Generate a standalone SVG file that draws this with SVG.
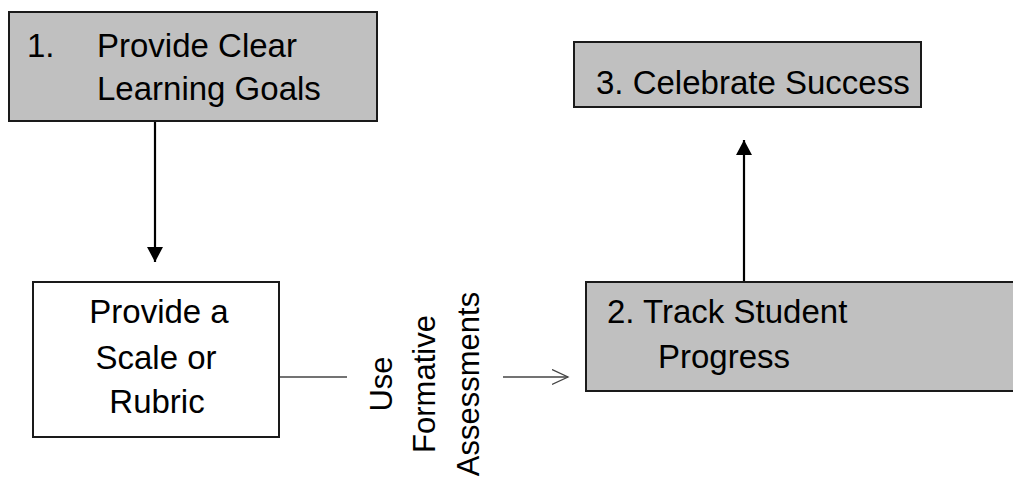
<svg xmlns="http://www.w3.org/2000/svg" width="1013" height="479" viewBox="0 0 1013 479">
<style>
.box{stroke:#1a1a1a;stroke-width:2}
.gray{fill:#c0c0c0}
.white{fill:#ffffff}
.t{font-family:"Liberation Sans","Noto Sans",sans-serif;font-size:33px;fill:#000}
.v{font-size:31px}
.c{text-anchor:middle}
.thin{stroke:#444;stroke-width:1.3;fill:none}
.bold{stroke:#000;stroke-width:2.2;fill:none}
</style>
<defs>
<marker id="solid" markerWidth="16" markerHeight="16" refX="15" refY="8" orient="auto" markerUnits="userSpaceOnUse">
<path d="M0,0 L15,8 L0,16 Z" fill="#000"/>
</marker>
<marker id="open" markerWidth="18" markerHeight="18" refX="16" refY="8" orient="auto" markerUnits="userSpaceOnUse">
<path d="M0,0.5 L16,8 L0,15.5" fill="none" stroke="#444" stroke-width="1.3"/>
</marker>
</defs>
<rect width="1013" height="479" fill="#fff"/>
<g id="connectors">
<line class="bold" x1="155" y1="121" x2="155" y2="262" marker-end="url(#solid)"/>
<line class="bold" x1="744" y1="281" x2="744" y2="140" marker-end="url(#solid)"/>
<line class="thin" x1="279" y1="377" x2="347" y2="377"/>
<line class="thin" x1="503" y1="377" x2="568" y2="377" marker-end="url(#open)"/>
<text class="t v c" transform="translate(384,384) rotate(-90)"><tspan x="0" y="8">Use</tspan><tspan x="0" y="51">Formative</tspan><tspan x="0" y="95">Assessments</tspan></text>
</g>
<g id="node1">
<rect class="box gray" x="9" y="12" width="368" height="109"/>
<text class="t"><tspan x="27" y="57">1.</tspan><tspan x="97" y="57">Provide Clear</tspan><tspan x="97" y="100">Learning Goals</tspan></text>
</g>
<g id="node3">
<rect class="box gray" x="574" y="42" width="347" height="65"/>
<text class="t" x="596" y="94">3. Celebrate Success</text>
</g>
<g id="nodeScale">
<rect class="box white" x="33" y="282" width="246" height="155"/>
<text class="t c"><tspan x="159" y="323">Provide a</tspan><tspan x="156" y="369">Scale or</tspan><tspan x="157" y="413">Rubric</tspan></text>
</g>
<g id="node2">
<rect class="box gray" x="586" y="282" width="440" height="109"/>
<text class="t"><tspan x="607" y="323">2. Track Student</tspan><tspan x="658" y="368">Progress</tspan></text>
</g>
</svg>
